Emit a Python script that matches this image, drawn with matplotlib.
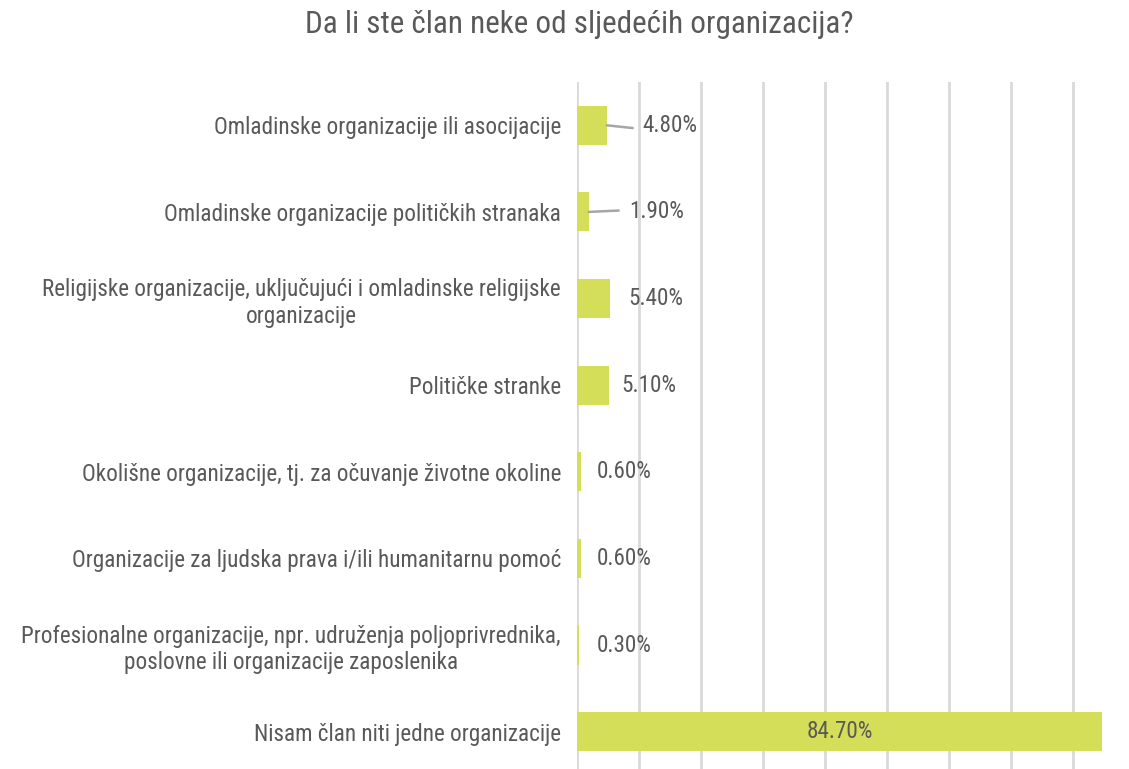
import matplotlib

matplotlib.use("Agg")

import matplotlib.pyplot as plt
from matplotlib import font_manager

CATEGORIES = [
    "Omladinske organizacije ili asocijacije",
    "Omladinske organizacije političkih stranaka",
    "Religijske organizacije, uključujući i omladinske religijske\norganizacije",
    "Političke stranke",
    "Okolišne organizacije, tj. za očuvanje životne okoline",
    "Organizacije za ljudska prava i/ili humanitarnu pomoć",
    "Profesionalne organizacije, npr. udruženja poljoprivrednika,\nposlovne ili organizacije zaposlenika",
    "Nisam član niti jedne organizacije",
]
VALUES = [4.8, 1.9, 5.4, 5.1, 0.6, 0.6, 0.3, 84.7]
TITLE = "Da li ste član neke od sljedećih organizacija?"

BAR_COLOR = "#d4de58"
TEXT_COLOR = "#595959"
GRID_COLOR = "#d9d9d9"

# label offsets in pixels from the bar end; None -> centred inside the bar
LABEL_OFFSETS = [36, 40, 18, 13, 16, 16, 18, None]
LEADERS = {0, 1}

installed = {f.name for f in font_manager.fontManager.ttflist}
family = "Roboto"
for cand in ["Roboto Condensed", "Liberation Sans Narrow", "Open Sans Condensed"]:
    if cand in installed:
        family = cand
        break
condensed = family != "Roboto"
plt.rcParams["font.family"] = [family, "DejaVu Sans"]

label_size = 16.7 if condensed else 14.5
title_size = 22.4 if condensed else 20

fig = plt.figure(figsize=(11.29, 7.69), dpi=100)
ax = fig.add_axes([0.511, -0.0078, 0.489, 0.9012])

y = list(range(len(CATEGORIES)))
ax.barh(y, VALUES, height=0.45, color=BAR_COLOR, zorder=2)

ax.set_xlim(0, 89)
ax.set_ylim(len(CATEGORIES) - 0.5, -0.5)
ax.set_xticks(range(0, 90, 10))
ax.xaxis.grid(True, color=GRID_COLOR, linewidth=2.0, zorder=0)
ax.tick_params(axis="x", bottom=False, labelbottom=False)
ax.tick_params(axis="y", left=False, pad=8)
for side in ax.spines.values():
    side.set_visible(False)

ax.set_yticks(y)
ax.set_yticklabels(CATEGORIES, fontsize=label_size, color=TEXT_COLOR)
for lbl in ax.get_yticklabels():
    lbl.set_multialignment("center")

for i, (val, off) in enumerate(zip(VALUES, LABEL_OFFSETS)):
    text = f"{val:.2f}%"
    if off is None:
        ax.text(val / 2, i, text, ha="center", va="center",
                fontsize=label_size, color=TEXT_COLOR, zorder=3)
        continue
    ax.annotate(
        text,
        xy=(val, i),
        xytext=(off * 0.72, 0),
        textcoords="offset points",
        ha="left",
        va="center",
        fontsize=label_size,
        color=TEXT_COLOR,
        zorder=3,
    )
    if i in LEADERS:
        ax.annotate(
            "",
            xy=(val, i),
            xytext=((off - 10) * 0.72, -2 if i == 0 else 1),
            textcoords="offset points",
            arrowprops=dict(arrowstyle="-", color="#a6a6a6", lw=1.8,
                            shrinkA=0, shrinkB=0),
        )

fig.text(0.513, 0.9675, TITLE, ha="center", va="center",
         fontsize=title_size, color=TEXT_COLOR)

fig.savefig("out.png", dpi=100)
